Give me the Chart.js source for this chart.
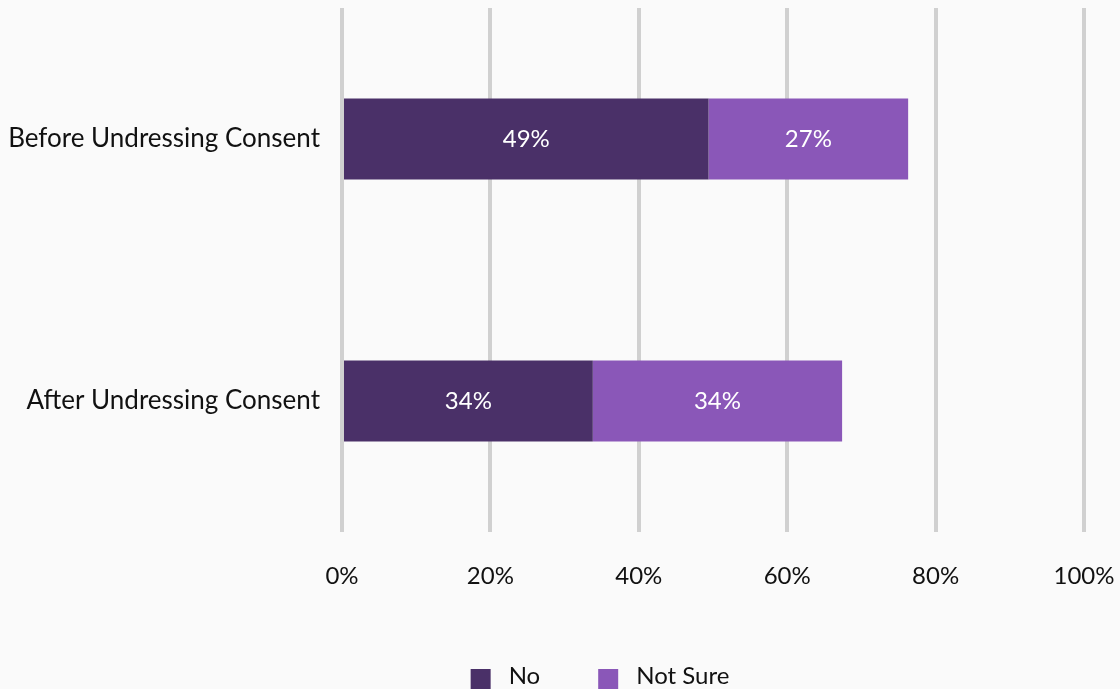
<!DOCTYPE html>
<html>
<head>
<meta charset="utf-8">
<script src="https://cdn.jsdelivr.net/npm/chart.js@4"></script>
<style>
  html, body { margin: 0; padding: 0; background: #fafafa; }
  #wrap { width: 1120px; height: 689px; }
</style>
</head>
<body>
<div id="wrap"><canvas id="consentChart" width="1120" height="689"></canvas></div>
<script>
const categories = ['Before Undressing Consent', 'After Undressing Consent'];
const noValues = [49.4, 33.8];
const notSureValues = [26.9, 33.6];
const xTicks = [0, 20, 40, 60, 80, 100];

const FONT = 'Lato, "Open Sans", sans-serif';

// white % labels inside each bar segment
const barLabels = {
    id: 'barLabels',
    afterDatasetsDraw(chart) {
        const ctx = chart.ctx;
        ctx.save();
        ctx.fillStyle = '#ffffff';
        ctx.font = '24px ' + FONT;
        ctx.textAlign = 'center';
        ctx.textBaseline = 'middle';
        chart.data.datasets.forEach((ds, i) => {
            chart.getDatasetMeta(i).data.forEach((bar, j) => {
                const cx = (bar.x + bar.base) / 2;
                ctx.fillText(Math.round(ds.data[j]) + '%', cx, bar.y);
            });
        });
        ctx.restore();
    }
};

// legend at the bottom, spaced like the original
const bottomLegend = {
    id: 'bottomLegend',
    afterDraw(chart) {
        const ctx = chart.ctx;
        const box = 20, gap = 18, itemGap = 58;
        ctx.save();
        ctx.font = '24px ' + FONT;
        ctx.textBaseline = 'middle';
        const items = chart.data.datasets.map(ds => ({
            text: ds.label, color: ds.backgroundColor, w: ctx.measureText(ds.label).width
        }));
        let total = 0;
        items.forEach((it, i) => { total += box + gap + it.w + (i ? itemGap : 0); });
        let x = 600 - total / 2;
        const y = 677;
        items.forEach(it => {
            ctx.fillStyle = it.color;
            ctx.fillRect(x, y - 8, box, box);
            ctx.fillStyle = '#111';
            ctx.fillText(it.text, x + box + gap, y - 1);
            x += box + gap + it.w + itemGap;
        });
        ctx.restore();
    }
};

const data = {
    labels: categories,
    datasets: [{
        label: 'No',
        backgroundColor: '#4a3068',
        data: noValues,
        barPercentage: 0.31,
        categoryPercentage: 1
    }, {
        label: 'Not Sure',
        backgroundColor: '#8a57b8',
        data: notSureValues,
        barPercentage: 0.31,
        categoryPercentage: 1
    }]
};

const config = {
    type: 'bar',
    data: data,
    options: {
        indexAxis: 'y',
        responsive: false,
        animation: false,
        layout: { padding: { top: 8, right: 36, left: 0, bottom: 0 } },
        scales: {
            x: {
                stacked: true,
                min: 0,
                max: 100,
                afterBuildTicks: (scale) => { scale.ticks = xTicks.map(v => ({ value: v })); },
                grid: { color: '#d0d0d0', lineWidth: 4, drawTicks: false },
                border: { display: false },
                ticks: {
                    color: '#111',
                    font: { family: FONT, size: 24 },
                    padding: 30,
                    callback: (v) => v + '%'
                },
                afterFit: (scale) => {
                    scale.height = 689 - 532;
                    scale.paddingLeft = 0;
                    scale.paddingRight = 0;
                }
            },
            y: {
                stacked: true,
                grid: { display: false, drawTicks: false },
                border: { display: false },
                ticks: {
                    color: '#111',
                    font: { family: FONT, size: 26 },
                    padding: 22
                },
                afterFit: (scale) => {
                    scale.width = 342;
                    scale.paddingTop = 0;
                    scale.paddingBottom = 0;
                }
            }
        },
        plugins: {
            legend: { display: false },
            tooltip: { enabled: false }
        }
    },
    plugins: [barLabels, bottomLegend]
};

// eslint-disable-next-line
const consentChart = new Chart(
    document.getElementById('consentChart'),
    config
);
</script>
</body>
</html>
